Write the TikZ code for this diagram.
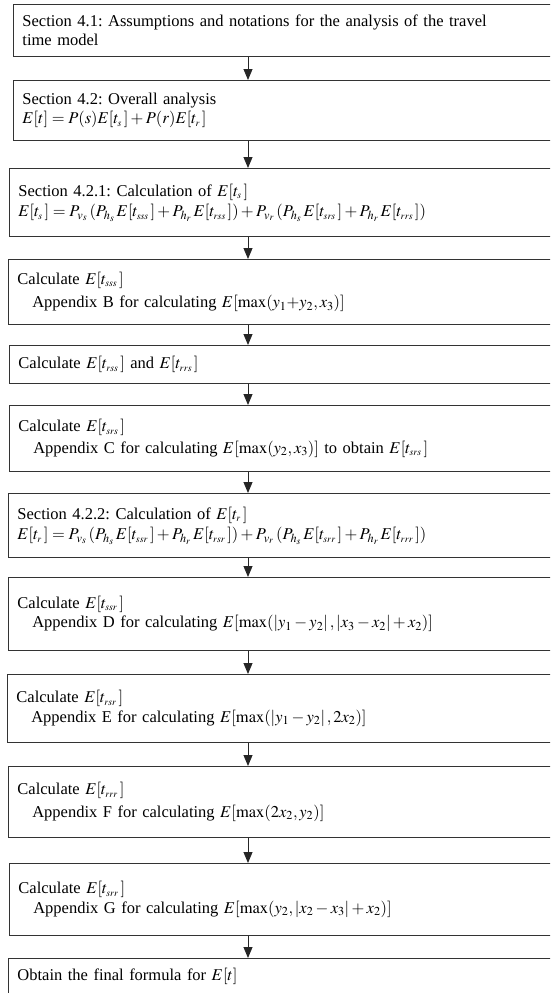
\documentclass[tikz,border=0pt]{standalone}
\usepackage{mathptmx}
\usepackage{fontspec}
\setmainfont{Liberation Serif}
\usetikzlibrary{arrows.meta}
\frenchspacing
\tikzset{
  box/.style={draw=black!80, line width=0.9pt, anchor=north west, inner xsep=9pt, inner ysep=0pt,
    text width=545pt, align=left, font=\fontsize{16.5}{19.5}\selectfont},
  arr/.style={draw=black!85, line width=0.9pt, -{Triangle[length=11pt,width=9pt]}}
}
\newcommand{\ind}{\hspace*{0.9em}}
\newcommand{\ts}[1]{t_{\scriptscriptstyle #1}\,}
\newcommand{\Pv}[1]{P_{v_{#1}}\,}
\newcommand{\Ph}[1]{P_{h_{#1}}\,}
\begin{document}
\begin{tikzpicture}[x=1pt,y=-1pt]
\useasboundingbox (0,0) rectangle (550,993);
\clip (0,0) rectangle (550,993);
\coordinate (ax) at (248,0);
\node[box, minimum height=52pt] (b1) at (13,4) {Section 4.1: Assumptions and notations for the analysis of the travel\\time model};
\node[box, minimum height=60pt] (b2) at (13,80) {Section 4.2: Overall analysis\\$E[t]=P(s)E[\ts{s}]+P(r)E[\ts{r}]$};
\node[box, minimum height=68pt] (b3) at (9,168) {Section 4.2.1: Calculation of $E[\ts{s}]$\\[1pt]$E[\ts{s}]=\Pv{s}(\Ph{s}E[\ts{sss}]+\Ph{r}E[\ts{rss}])+\Pv{r}(\Ph{s}E[\ts{srs}]+\Ph{r}E[\ts{rrs}])$};
\node[box, minimum height=65pt] (b4) at (8,259) {Calculate $E[\ts{sss}]$\\[4pt]\ind Appendix B for calculating $E[\max(y_1{+}y_2, x_3)]$};
\node[box, minimum height=38pt] (b5) at (9,345) {Calculate $E[\ts{rss}]$ and $E[\ts{rrs}]$};
\node[box, minimum height=66pt] (b6) at (9,405) {Calculate $E[\ts{srs}]$\\[2pt]\ind Appendix C for calculating $E[\max(y_2, x_3)]$ to obtain $E[\ts{srs}]$};
\node[box, minimum height=64pt] (b7) at (8,493) {Section 4.2.2: Calculation of $E[\ts{r}]$\\[1pt]$E[\ts{r}]=\Pv{s}(\Ph{s}E[\ts{ssr}]+\Ph{r}E[\ts{rsr}])+\Pv{r}(\Ph{s}E[\ts{srr}]+\Ph{r}E[\ts{rrr}])$};
\node[box, minimum height=73pt] (b8) at (8,577) {Calculate $E[\ts{ssr}]$\\\ind Appendix D for calculating $E[\max(\left|y_1-y_2\right|,\left|x_3-x_2\right|+x_2)]$};
\node[box, minimum height=68pt] (b9) at (7,674) {Calculate $E[\ts{rsr}]$\\\ind Appendix E for calculating $E[\max(\left|y_1-y_2\right|,2x_2)]$};
\node[box, minimum height=71pt] (b10) at (8,766) {Calculate $E[\ts{rrr}]$\\[3pt]\ind Appendix F for calculating $E[\max(2x_2, y_2)]$};
\node[box, minimum height=72pt] (b11) at (9,863) {Calculate $E[\ts{srr}]$\\\ind Appendix G for calculating $E[\max(y_2,\left|x_2-x_3\right|+x_2)]$};
\node[box, minimum height=36pt] (b12) at (8,958) {Obtain the final formula for $E[t]$};
\foreach \a/\b in {b1/b2,b2/b3,b3/b4,b4/b5,b5/b6,b6/b7,b7/b8,b8/b9,b9/b10,b10/b11,b11/b12}
  \draw[arr] (\a.south -| ax) -- (\b.north -| ax);
\end{tikzpicture}
\end{document}
